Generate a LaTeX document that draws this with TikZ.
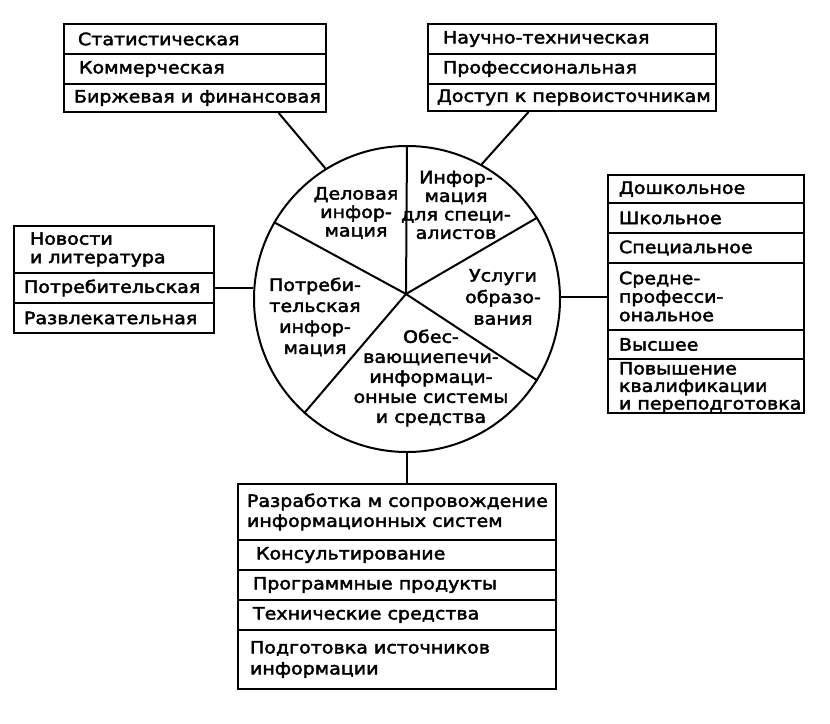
\documentclass[tikz,border=0pt]{standalone}
\usepackage{fontspec}
\setmainfont{DejaVu Sans}[FakeStretch=1.12,FakeBold=2.5]
\usetikzlibrary{calc}
\begin{document}
\begin{tikzpicture}[x=1pt,y=-1pt,line width=2pt,
  rowbox/.style 2 args={draw, line width=2pt, anchor=north west, inner sep=0pt, minimum width=#1, minimum height=#2},
  txt/.style={anchor=west, align=left, inner sep=0pt, font=\fontsize{17}{18.5}\selectfont},
  ptxt/.style={align=center, inner sep=0pt, font=\fontsize{17}{#1}\selectfont},
  link/.style={draw, line width=2pt}]
\useasboundingbox (0,0) rectangle (830,723);

% ---- circle ----
\node[draw, line width=2pt, circle, inner sep=0pt, minimum size=306] (circ) at (407,299) {};
\coordinate (hub) at (406,294);
\draw[link] (hub) -- (circ.90);
\draw[link] (hub) -- (circ.150.1);
\draw[link] (hub) -- (circ.32.3);
\draw[link] (hub) -- (circ.328.9);
\draw[link] (hub) -- (circ.228.2);

\node[ptxt=18.5] (s1) at (356,213) {Деловая\\инфор-\\мация};
\node[ptxt=18.5] (s2) at (456,205) {Инфор-\\мация\\для специ-\\алистов};
\node[ptxt=21.5] (s3) at (503,297) {Услуги\\образо-\\вания};
\node[ptxt=21] (s4) at (315,317) {Потреби-\\тельская\\инфор-\\мация};
\node[ptxt=20] (s5) at (431,378) {Обес-\\вающиепечи-\\информаци-\\онные системы\\и средства};

% ---- top-left box ----
\node[rowbox={262}{30}] (tl1) at (63,23) {};
\node[rowbox={262}{30}] (tl2) at (63,53) {};
\node[rowbox={262}{28}] (tl3) at (63,83) {};
\node[txt] (tl1t) at ($(tl1.west)+(14,0)$) {Статистическая};
\node[txt] (tl2t) at ($(tl2.west)+(15,0)$) {Коммерческая};
\node[txt] (tl3t) at ($(tl3.west)+(10,0)$) {Биржевая и финансовая};

% ---- top-right box ----
\node[rowbox={288}{30}] (tr1) at (427,23) {};
\node[rowbox={288}{30}] (tr2) at (427,53) {};
\node[rowbox={288}{27}] (tr3) at (427,83) {};
\node[txt] (tr1t) at ($(tr1.west)+(15,0)$) {Научно-техническая};
\node[txt] (tr2t) at ($(tr2.west)+(15,0)$) {Профессиональная};
\node[txt] (tr3t) at ($(tr3.west)+(9,0)$) {Доступ к первоисточникам};

% ---- right box ----
\node[rowbox={196}{28}] (rt1) at (607,174) {};
\node[rowbox={196}{30}] (rt2) at (607,202) {};
\node[rowbox={196}{30}] (rt3) at (607,232) {};
\node[rowbox={196}{67}] (rt4) at (607,262) {};
\node[rowbox={196}{29}] (rt5) at (607,329) {};
\node[rowbox={196}{54}] (rt6) at (607,358) {};
\node[txt] (rt1t) at ($(rt1.west)+(11,0)$) {Дошкольное};
\node[txt] (rt2t) at ($(rt2.west)+(11,0)$) {Школьное};
\node[txt] (rt3t) at ($(rt3.west)+(11,0)$) {Специальное};
\node[txt] (rt4t) at ($(rt4.west)+(11,0)$) {Средне-\\професси-\\ональное};
\node[txt] (rt5t) at ($(rt5.west)+(11,0)$) {Высшее};
\node[txt, font=\fontsize{17}{17.5}\selectfont] (rt6t) at ($(rt6.west)+(11,1.5)$) {Повышение\\квалификации\\и переподготовка};

% ---- left box ----
\node[rowbox={200}{47}] (lf1) at (13,225) {};
\node[rowbox={200}{30}] (lf2) at (13,272) {};
\node[rowbox={200}{30}] (lf3) at (13,302) {};
\node[txt] (lf1t) at ($(lf1.west)+(16,0)$) {Новости\\и литература};
\node[txt] (lf2t) at ($(lf2.west)+(10,0)$) {Потребительская};
\node[txt] (lf3t) at ($(lf3.west)+(10,0)$) {Развлекательная};

% ---- bottom box ----
\node[rowbox={318}{56}] (bt1) at (237,483) {};
\node[rowbox={318}{30}] (bt2) at (237,539) {};
\node[rowbox={318}{30}] (bt3) at (237,569) {};
\node[rowbox={318}{30}] (bt4) at (237,599) {};
\node[rowbox={318}{59}] (bt5) at (237,629) {};
\node[txt, font=\fontsize{17}{20}\selectfont] (bt1t) at ($(bt1.west)+(9,0)$) {Разработка м сопровождение\\информационных систем};
\node[txt] (bt2t) at ($(bt2.west)+(18,0)$) {Консультирование};
\node[txt] (bt3t) at ($(bt3.west)+(15,0)$) {Программные продукты};
\node[txt] (bt4t) at ($(bt4.west)+(15,0)$) {Технические средства};
\node[txt, font=\fontsize{17}{21}\selectfont] (bt5t) at ($(bt5.west)+(12,0)$) {Подготовка источников\\информации};

% ---- connectors ----
\draw[link] ($(tl3.south west)!0.817!(tl3.south east)$) -- (circ.122.4);
\draw[link] ($(tr3.south west)!0.35!(tr3.south east)$) -- (circ.61.1);
\draw[link] (lf2.east) -- (lf2.east -| circ.west);
\draw[link] (circ.east |- rt4.west) -- (rt4.west);
\draw[link] (circ.south) -- (circ.south |- bt1.north);
\end{tikzpicture}
\end{document}
